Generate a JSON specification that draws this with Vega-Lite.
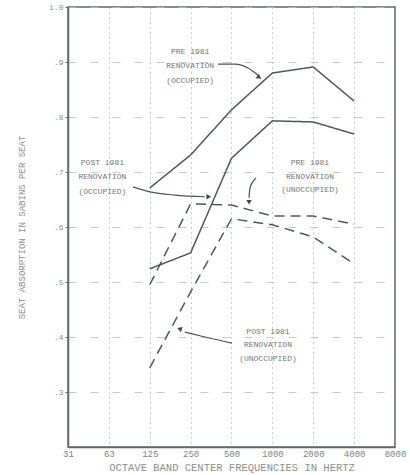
{
  "$schema": "https://vega.github.io/schema/vega-lite/v6.json",
  "width": 327,
  "height": 440,
  "autosize": "none",
  "padding": {"left": 68, "top": 7, "right": 15, "bottom": 28},
  "background": "white",
  "config": {
    "view": {"stroke": "#5f6b68", "strokeWidth": 1.5},
    "font": "Liberation Mono"
  },
  "datasets": {
    "curves": [
      {"series": "Pre 1981 occupied", "occupancy": "Occupied", "freq": 125, "value": 0.671},
      {"series": "Pre 1981 occupied", "occupancy": "Occupied", "freq": 250, "value": 0.731},
      {"series": "Pre 1981 occupied", "occupancy": "Occupied", "freq": 500, "value": 0.813},
      {"series": "Pre 1981 occupied", "occupancy": "Occupied", "freq": 1000, "value": 0.88},
      {"series": "Pre 1981 occupied", "occupancy": "Occupied", "freq": 2000, "value": 0.891},
      {"series": "Pre 1981 occupied", "occupancy": "Occupied", "freq": 4000, "value": 0.829},
      {"series": "Post 1981 occupied", "occupancy": "Occupied", "freq": 125, "value": 0.524},
      {"series": "Post 1981 occupied", "occupancy": "Occupied", "freq": 250, "value": 0.553},
      {"series": "Post 1981 occupied", "occupancy": "Occupied", "freq": 500, "value": 0.725},
      {"series": "Post 1981 occupied", "occupancy": "Occupied", "freq": 1000, "value": 0.793},
      {"series": "Post 1981 occupied", "occupancy": "Occupied", "freq": 2000, "value": 0.791},
      {"series": "Post 1981 occupied", "occupancy": "Occupied", "freq": 4000, "value": 0.769},
      {"series": "Pre 1981 unoccupied", "occupancy": "Unoccupied", "freq": 125, "value": 0.495},
      {"series": "Pre 1981 unoccupied", "occupancy": "Unoccupied", "freq": 250, "value": 0.642},
      {"series": "Pre 1981 unoccupied", "occupancy": "Unoccupied", "freq": 500, "value": 0.64},
      {"series": "Pre 1981 unoccupied", "occupancy": "Unoccupied", "freq": 1000, "value": 0.62},
      {"series": "Pre 1981 unoccupied", "occupancy": "Unoccupied", "freq": 2000, "value": 0.62},
      {"series": "Pre 1981 unoccupied", "occupancy": "Unoccupied", "freq": 4000, "value": 0.605},
      {"series": "Post 1981 unoccupied", "occupancy": "Unoccupied", "freq": 125, "value": 0.344},
      {"series": "Post 1981 unoccupied", "occupancy": "Unoccupied", "freq": 250, "value": 0.482},
      {"series": "Post 1981 unoccupied", "occupancy": "Unoccupied", "freq": 500, "value": 0.615},
      {"series": "Post 1981 unoccupied", "occupancy": "Unoccupied", "freq": 1000, "value": 0.604},
      {"series": "Post 1981 unoccupied", "occupancy": "Unoccupied", "freq": 2000, "value": 0.582},
      {"series": "Post 1981 unoccupied", "occupancy": "Unoccupied", "freq": 4000, "value": 0.533}
    ],
    "notes": [
      {"line": "PRE 1981", "freq": 248, "value": 0.918},
      {"line": "RENOVATION", "freq": 248, "value": 0.893},
      {"line": "(OCCUPIED)", "freq": 248, "value": 0.865},
      {"line": "POST 1981", "freq": 56, "value": 0.716},
      {"line": "RENOVATION", "freq": 56, "value": 0.691},
      {"line": "(OCCUPIED)", "freq": 56, "value": 0.664},
      {"line": "PRE 1981", "freq": 1891, "value": 0.716},
      {"line": "RENOVATION", "freq": 1891, "value": 0.691},
      {"line": "(UNOCCUPIED)", "freq": 1891, "value": 0.667},
      {"line": "POST 1981", "freq": 928, "value": 0.409},
      {"line": "RENOVATION", "freq": 928, "value": 0.385},
      {"line": "(UNOCCUPIED)", "freq": 928, "value": 0.36}
    ],
    "arrows": [
      {"arrow": "a1", "order": 1, "freq": 398, "value": 0.896},
      {"arrow": "a1", "order": 2, "freq": 531, "value": 0.896},
      {"arrow": "a1", "order": 3, "freq": 662, "value": 0.889},
      {"arrow": "a1", "order": 4, "freq": 784, "value": 0.876},
      {"arrow": "a2", "order": 1, "freq": 94, "value": 0.673},
      {"arrow": "a2", "order": 2, "freq": 125.5, "value": 0.664},
      {"arrow": "a2", "order": 3, "freq": 192, "value": 0.658},
      {"arrow": "a2", "order": 4, "freq": 319, "value": 0.655},
      {"arrow": "a3", "order": 1, "freq": 758, "value": 0.689},
      {"arrow": "a3", "order": 2, "freq": 684, "value": 0.671},
      {"arrow": "a3", "order": 3, "freq": 673, "value": 0.653},
      {"arrow": "a4", "order": 1, "freq": 504, "value": 0.389},
      {"arrow": "a4", "order": 2, "freq": 319, "value": 0.4},
      {"arrow": "a4", "order": 3, "freq": 227, "value": 0.409}
    ],
    "heads": [
      {"arrow": "a1", "freq": 800, "value": 0.872, "dir": 35},
      {"arrow": "a2", "freq": 340, "value": 0.655, "dir": 0},
      {"arrow": "a3", "freq": 673, "value": 0.645, "dir": 90},
      {"arrow": "a4", "freq": 207, "value": 0.415, "dir": 200}
    ]
  },
  "layer": [
    {
      "data": {"name": "curves"},
      "mark": {"type": "line", "strokeWidth": 1.5, "color": "#4d5a57"},
      "encoding": {
        "x": {
          "field": "freq", "type": "quantitative",
          "scale": {"type": "log", "base": 2, "domain": [31.25, 8000], "nice": false},
          "axis": {
            "values": [31.25, 62.5, 125, 250, 500, 1000, 2000, 4000, 8000],
            "labelExpr": "round(datum.value)",
            "title": "OCTAVE BAND CENTER FREQUENCIES IN HERTZ",
            "titleFont": "Liberation Mono", "titleFontSize": 10.5, "titleFontWeight": "normal",
            "titleColor": "#8a8f8e", "titlePadding": 4,
            "labelFont": "Liberation Mono", "labelFontSize": 9, "labelColor": "#7d8381",
            "labelPadding": 2, "labelFlush": false, "labelOverlap": false,
            "tickSize": 0, "domainColor": "#5f6b68", "domainWidth": 1.5,
            "grid": true, "gridColor": "#8a9290", "gridDash": [1, 4], "gridWidth": 1, "gridOpacity": 0.9
          }
        },
        "y": {
          "field": "value", "type": "quantitative",
          "scale": {"domain": [0.2, 1.0], "nice": false},
          "axis": {
            "values": [0.3, 0.4, 0.5, 0.6, 0.7, 0.8, 0.9, 1.0],
            "labelExpr": "datum.value == 1 ? '1.0' : replace(format(datum.value, '.1f'), '0.', '.')",
            "title": "SEAT ABSORPTION IN SABINS PER SEAT",
            "titleFont": "Liberation Mono", "titleFontSize": 9, "titleFontWeight": "normal",
            "titleColor": "#8a8f8e", "titlePadding": 22,
            "labelFont": "Liberation Mono", "labelFontSize": 8, "labelColor": "#8a8f8e",
            "labelPadding": 2, "tickSize": 3, "tickColor": "#5f6b68",
            "domainColor": "#5f6b68", "domainWidth": 1.5,
            "grid": true, "gridColor": "#b8bebc", "gridDash": [8, 14], "gridWidth": 1, "gridOpacity": 0.8
          }
        },
        "detail": {"field": "series"},
        "strokeDash": {
          "field": "occupancy", "type": "nominal",
          "scale": {"domain": ["Occupied", "Unoccupied"], "range": [[1, 0], [10, 6]]},
          "legend": null
        }
      }
    },
    {
      "data": {"name": "arrows"},
      "mark": {"type": "line", "strokeWidth": 1.2, "color": "#4a5653", "interpolate": "monotone"},
      "encoding": {
        "x": {"field": "freq", "type": "quantitative"},
        "y": {"field": "value", "type": "quantitative"},
        "detail": {"field": "arrow"},
        "order": {"field": "order", "type": "quantitative"}
      }
    },
    {
      "data": {"name": "heads"},
      "mark": {"type": "point", "shape": "triangle-right", "filled": true, "size": 30, "color": "#3f4a47", "opacity": 1},
      "encoding": {
        "x": {"field": "freq", "type": "quantitative"},
        "y": {"field": "value", "type": "quantitative"},
        "angle": {"field": "dir", "type": "quantitative", "scale": null}
      }
    },
    {
      "data": {"name": "notes"},
      "mark": {"type": "text", "font": "Liberation Mono", "fontSize": 8, "color": "#6f7674", "align": "center", "baseline": "middle"},
      "encoding": {
        "x": {"field": "freq", "type": "quantitative"},
        "y": {"field": "value", "type": "quantitative"},
        "text": {"field": "line"}
      }
    }
  ]
}
